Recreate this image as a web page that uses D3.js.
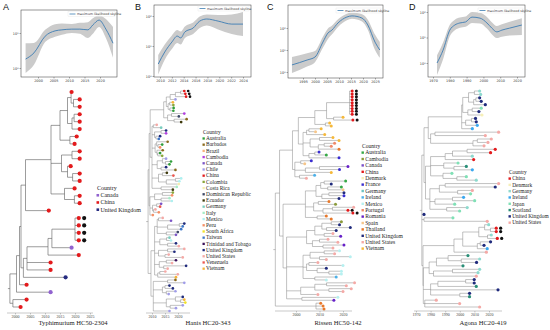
<!DOCTYPE html>
<html>
<head>
<meta charset="utf-8">
<script src="https://cdn.jsdelivr.net/npm/d3@7"></script>
<style>
  body { margin: 0; background: #fff; }
  svg { display: block; }
</style>
</head>
<body>
<svg id="fig" width="550" height="330"></svg>
<script>
// ---- skyline data (effective population size, years) ----
const skyA_year = [1996, 1998.7, 2002.3, 2005.5, 2007.7, 2010.9, 2013.5, 2016.1, 2017.7, 2019.7, 2021.9, 2024.2]
const skyA_med  = [1.8, 2.7, 8.1, 11.5, 12.3, 12.9, 12.9, 12.3, 17.0, 23.4, 12.9, 5.1]
const skyA_low  = [0.72, 1.23, 5.5, 7.8, 8.9, 10.0, 9.5, 7.2, 9.5, 14.8, 7.2, 1.95]
const skyA_high = [5.1, 5.2, 12.3, 17.8, 18.6, 18.2, 19.5, 20.4, 26.3, 32.4, 25.1, 14.8]

const skyB_year = [2009.7, 2010.8, 2012, 2012.9, 2013.5, 2014.2, 2015.6, 2016.7, 2017.9, 2019.8, 2022.1, 2024]
const skyB_med  = [2.5, 6.3, 13.5, 21.4, 18.6, 29.5, 39.8, 67.6, 79.4, 67.6, 53.7, 53.7]
const skyB_low  = [1.12, 3.5, 7.9, 12.6, 11.2, 18.6, 25.1, 39.8, 47.9, 35.5, 25.1, 21.4]
const skyB_high = [5.0, 11.2, 22.4, 33.9, 30.2, 44.7, 60.3, 95.5, 112, 107, 112, 135]

const skyC_year = [1990.4, 1996.7, 2000, 2003.3, 2005.4, 2007, 2009.6, 2013.3, 2015.4, 2019.6, 2022, 2025, 2027]
const skyC_med  = [2.1, 3.5, 4.8, 22.9, 58.9, 79.4, 170, 316, 355, 282, 138, 22.9, 10]
const skyC_low  = [0.89, 1.78, 2.8, 12.6, 31.6, 50.1, 112, 224, 263, 200, 83, 10, 4.4]
const skyC_high = [4.8, 7.1, 8.9, 39.8, 95.5, 126, 251, 447, 501, 417, 240, 50.1, 22.9]

const skyD_year = [1972.4, 1976, 1980, 1983, 1986, 1989.4, 1993.2, 1998, 2002.1, 2005, 2008, 2011, 2015.7, 2022.9]
const skyD_med  = [1.0, 3.2, 19.5, 30.9, 37.2, 40.7, 63.1, 57.5, 37.2, 23.4, 16.6, 19.5, 23.4, 30.9]
const skyD_low  = [0.34, 1.41, 11.2, 19.1, 24.0, 26.3, 37.2, 35.5, 22.4, 13.5, 9.5, 10.7, 12.0, 12.6]
const skyD_high = [2.0, 6.3, 31.6, 50.1, 60.3, 66.1, 100, 93.3, 63.1, 39.8, 28.2, 33.1, 41.7, 57.5]

// ---- trees: newick, tip = country code (":year" = node date), "*" = study isolate ----
const treeA_top16 = "((((CN:2018.3,(CN:2021,CN:2021):2019.5):2018.7,((CN:2021,CN:2021):2019.7,CN:2021):2019):2017.5,(CN:2020,CN:2019.3):2018.3):2015,((CN:2021,CN:2021):2019,(CN:2018,(CN:2021,CN:2021):2019.2):2017.5):2015.5,(CN:2019.3,(CN:2021,CN:2021):2019.8):2016.5):2012"
const treeA_low = "((((CN*:2020.7,CN*:2020.7,CN*:2020.7,CN*:2020.7):2020,CA:2018.3):2012.3,CN:2020.7):2011,CN:2011.3,CN:2011.3):2004"
const treeA = "((((" + "(" + treeA_top16 + ",CN:2010.7):2003.5" + ",(" + treeA_low + ",UK:2016.3):2002.8):2002,CN:2003.3):2001.5,CA:2011.3):2000.5,(CN:2003.3,CN:2001.3):1999.3):1998.3"

const treeB1 = "(((((CN*:2022,CN*:2022.4):2021,CN*:2022.7):2019,CL:2018.6):2017,((VN:2017.6,CO:2017.8):2016.8,(AU:2017.9,AU:2017.8):2016.9):2016.2):2015.5,((KH:2022,DR:2019.9):2017.5,(BB:2022.9,EC:2020.8):2018.5):2016):2014.5"
const treeB2 = "((US:2011.4,DE:2013.1):2010.5,((UK:2015,KH:2015):2013.5,(UK:2012.7,TW:2012.2):2011.5):2011,((BB:2015.6,(AU:2013.5,PE:2012.7):2012.3):2011.8,(BB:2013.7,(AU:2012.7,CO:2013.5):2012.2):2011.9):2011.2,((CL:2015,(AU:2016.9,AU:2016.3):2015.2):2014,(UK:2015,BB:2018.6):2013.5):2012,((EC:2015.3,VE:2017.8):2014,((MX:2020.8,MX:2020.1):2019,CR:2019.9):2015.5):2012.5,(IT:2019.1,EC:2017.6):2013.5):2010"
const treeB3 = "(((CO:2017.6,PE:2017.3):2014,(IT:2016.3,MX:2017.2):2013.5):2011,((CA:2013.1,VE:2012.7):2011.8,(US:2010.9,PE:2012.2):2010.6):2010.2,PE:2009.9):2009.2"
const treeB4 = "(((US:2013.7,CA:2016.9):2012.5,((UK:2022,TW:2021.4):2020.5,TW:2020.8):2016,(DR:2019.5,CA:2018.8):2015.5):2012,((DE:2016.3,MX:2016.9):2015.6,(UK:2018.8,US:2019.9):2016):2013,((US:2022,UK:2018.2):2016,(US:2016,US:2021.4):2015):2012.5,((TT:2018.8,US:2017.3):2015.5,(UK:2022.7,US:2015.6):2014.5):2012.8,((US:2014.7,US:2019.5):2013,VN:2018.8):2012.2):2011"
const treeB5 = "((BB:2018.6,CL:2022):2016,((UK:2016.3,UK:2017.6):2015,(CL:2018.6,CL:2016):2015.5):2014,((UK:2021.4,(VN:2022,SA:2022.4):2021):2019,(CL:2021.4,CL:2018.8):2017):2015.5,CL:2016.3):2010.5"
const treeB = "(((" + treeB1 + "," + treeB2 + "):2009.3," + treeB3 + "):2008.9,(" + treeB4 + "," + treeB5 + "):2009.6):2008.5"

const treeC1a = "(((CN*:2023.4,CN*:2023.4,CN*:2023.4,CN*:2023.4,CN*:2023.4,CN*:2023.4,CN*:2023.4,CN*:2023.4,CN*:2023.4):2022.8,(VN:2019.5,CN*:2023.7):2016):2013,(VN:2013.8,VN:2014.5):2012.5):2008"
const treeC1b = "(((VN:2010.2,ES:2007.8):2005.5,VN:2011.7):2004.5,((VN:2015.2,VN:2017.8):2010,((PT:2015.9,PT:2014.5):2012,TH:2017.8):2009.5):2006,((FR:2009.3,AU:2012.4):2008,FR:2017.8):2005.5):2003"
const treeC1c = "((FR:2006,ES:2003.2):2002,((RO:2021.6,FR:2018):2010,VN:2014.5):2004,(IE:2007.4,US:2003.9):2001.5):1999.5"
const treeC2 = "((((AU:2020.6,UK:2014.5):2012,(AU:2018.8,ES:2019.5):2013.5):2010.5,((UK:2019.9,FR:2019.9):2014,UK:2017.8):2011):2008.5,((TH:2013.5,KH:2016.3):2009.5,((US:2024,CN*:2021.6):2015.5,CN*:2023.7):2011.5):2007.5,(TH:2012.4,TH:2014.5):2009):2004"
const treeC3a = "((((KH:2018.8,UK:2018):2015,(UK:2022.6,UK:2016.6):2013):2011,(US:2015.2,RO:2018.5):2012):2008,((US:2013.1,US:2017.3):2010,(RO:2019.9,US:2015.2):2011.5):2007):2004.5"
const treeC3b = "(((MX:2018,US:2015.9):2012,(MX:2022.6,US:2012.4):2010):2006,((US:2008.8,MX:2019.5):2005.5,(UK:2012.4,(MX:2018.8,MX:2018.8):2014):2009):2004.5,(IE:2016.6,MX:2012.4):2008):2003"
const treeC3c = "(((US:2024.4,US:2020.9):2013,(US:2023,US:2019.5):2014):2008,US:2008.8):2002"
const treeC3d = "(MX:2017.3,RO:2015.6):2002.5"
const treeC3e = "(TH:2010,TH:2011,TH:2011.4):2008.5"
const treeC = "((" + "((" + treeC1a + "," + treeC1b + "):2001," + treeC1c + "):1998.5" +
  ",(" + treeC2 + ",(" + treeC3a + "," + treeC3b + "," + treeC3c + "," + treeC3d + "):1996):1994.5):1993," + treeC3e + "):1991.2"

const treeD1a = "((((DE:2012.7,DE:2013.4):2010,((UK:2012.7,UK:2013.8):2011,UK:2016.6):2009.5):2006,((JP:2013.8,UK:2012.2):2008.5,DK:2014.3):2005.5):2002,((UK:2009.9,UK:2010.4):2008,IE:2011.1):2004,IE:2007.7):2001.3"
const treeD1b = "((US:2025.7,US:2016.6):1983,((US:2020.7,US:2018.4):2012,US:2015.7):2009):1980"
const treeD2a = "((((CN:2023.4,CN:2020.2):2005,DE:2007.7):1995,CN:2008.6):1990,(JP:1997.9,(SC:2003.6,IE:2007.7):1996):1989,(JP:1993.7,(JP:2003.6,DE:2010.4):1998):1988.5):1980"
const treeD2b = "(((US:2025.7,UK:2023.4):1990,(US:2007.7,JP:2006.5):1998.5):1986,((IE:2001.7,JP:2009.3):1995,JP:1995.6):1983,(DE:2004.2,JP:1999):1991):1979.5"
const treeD3 = "(JP:1994.4,US:2017.9):1975.5"
const treeD4 = "((((DE:2018.9,(CN*:2024.1,CN*:2024.1):2021):2017,(DE:2020.7,CN*:2024.8):2019):2013,((UK:2020.2,UK:2015.7):2014,IE:2017.9):2012):2002,US:2017.3):1996"
const treeD5a = "(((SC:2004.7,(DE:2012.7,UK:2010.6):2001):1992,SC:2001.3):1984,((DE:2012.7,DE:2011.6):1995,US:2010.4):1982):1979"
const treeD5b = "(((UK:2009,UK:2009):2004,SC:2010.4):1985,UK:2025.3,(UK:2005.8,SC:2005.8):2000):1980"
const treeD5c = "(US:1983,US:1999,US:2012.7):1976"
const treeD = "((" + "(" + treeD1a + "," + treeD1b + "):1978.4" + "," + "(" + treeD2a + "," + treeD2b + "):1976.5" +
  "):1975.5,UK:1974.6," + treeD3 + ",(" + treeD4 + ",(" + treeD5a + "," + treeD5b + "," + treeD5c + "):1975):1974.8):1974"

const codes = {
  AU: "Australia", BB: "Barbados", BR: "Brazil", KH: "Cambodia", CA: "Canada", CL: "Chile",
  CN: "China", CO: "Colombia", CR: "Costa Rica", DR: "Dominican Republic", EC: "Ecuador",
  DE: "Germany", IT: "Italy", MX: "Mexico", PE: "Peru", SA: "South Africa", TW: "Taiwan",
  TT: "Trinidad and Tobago", UK: "United Kingdom", US: "United States", VE: "Venezuela",
  VN: "Vietnam", DK: "Denmark", FR: "France", IE: "Ireland", PT: "Portugal", RO: "Romania",
  ES: "Spain", TH: "Thailand", JP: "Japan", SC: "Scotland"
}

// ---- legends ----
const legendA = ["Canada", "China", "United Kingdom"]
const colorsA = ["#9163cf", "#e31a1c", "#252b80"]

const legendB = ["Australia", "Barbados", "Brazil", "Cambodia", "Canada", "Chile", "China", "Colombia",
  "Costa Rica", "Dominican Republic", "Ecuador", "Germany", "Italy", "Mexico", "Peru", "South Africa",
  "Taiwan", "Trinidad and Tobago", "United Kingdom", "United States", "Venezuela", "Vietnam"]
const colorsB = ["#2f9e3a", "#8a6a1c", "#f6b27c", "#b23fe0", "#7b55c6", "#a09ce8", "#e31a1c", "#8aa63a",
  "#f6eeae", "#3c4767", "#3e3a0c", "#79cdbf", "#a6ecc6", "#aef0f0", "#f58f66", "#f1e22a",
  "#3f78c8", "#3a105a", "#1f2a7c", "#f4a9a6", "#ec5850", "#f5b43a"]

const legendC = ["Australia", "Cambodia", "Canada", "China", "Denmark", "France", "Germany", "Ireland",
  "Mexico", "Portugal", "Romania", "Spain", "Thailand", "United Kingdom", "United States", "Vietnam"]
const colorsC = ["#35a845", "#8a9a3a", "#7a4fc8", "#e31a1c", "#f6efb8", "#3a2ed0", "#6ec3c3", "#4db0e8",
  "#b6f0f0", "#f08868", "#6620c8", "#f6c68a", "#e8782a", "#1f2a7c", "#f4a9a6", "#f5b83a"]

const legendD = ["China", "Denmark", "Germany", "Ireland", "Japan", "Scotland", "United Kingdom", "United States"]
const colorsD = ["#e31a1c", "#f6efb8", "#8edace", "#3aa8f0", "#80e0b6", "#2a8f78", "#1f2a7c", "#f4a9a6"]

const svg = d3.select("#fig")
const serif = "'Liberation Serif', 'Times New Roman', serif"
const sans = "'DejaVu Sans', 'Liberation Sans', sans-serif"
const sup = { "0": "\u2070", "1": "\u00b9", "2": "\u00b2", "3": "\u00b3" }

function parseNewick (s) {
  let i = 0
  function node () {
    const n = { children: [] }
    if (s[i] === "(") {
      i++
      n.children.push(node())
      while (s[i] === ",") { i++; n.children.push(node()) }
      i++
    }
    let lab = ""
    while (i < s.length && !",():".includes(s[i])) lab += s[i++]
    n.name = lab
    if (s[i] === ":") {
      i++
      let v = ""
      while (i < s.length && !",()".includes(s[i])) v += s[i++]
      n.year = +v
    }
    return n
  }
  return node()
}

function drawSkyline (cfg) {
  const g = svg.append("g")
  const [bx0, by0, bx1, by1] = cfg.box
  const x = d3.scaleLinear().domain(cfg.xDomain).range(cfg.xRange)
  const y = d3.scaleLog().domain(cfg.yDomain).range(cfg.yRange)
  const rows = cfg.years.map((yr, i) => ({ yr, med: cfg.med[i], low: cfg.low[i], high: cfg.high[i] }))

  g.append("clipPath").attr("id", cfg.id)
    .append("rect").attr("x", bx0).attr("y", by0).attr("width", bx1 - bx0).attr("height", by1 - by0)

  const inner = g.append("g").attr("clip-path", `url(#${cfg.id})`)
  inner.append("path").datum(rows)
    .attr("d", d3.area().x(d => x(d.yr)).y0(d => y(d.low)).y1(d => y(d.high)).curve(d3.curveMonotoneX))
    .attr("fill", "#cbcbcb")
  inner.append("path").datum(rows)
    .attr("d", d3.line().x(d => x(d.yr)).y(d => y(d.med)).curve(d3.curveMonotoneX))
    .attr("fill", "none").attr("stroke", "#3d7db3").attr("stroke-width", 0.9)

  g.append("rect").attr("x", bx0).attr("y", by0).attr("width", bx1 - bx0).attr("height", by1 - by0)
    .attr("fill", "none").attr("stroke", "#333").attr("stroke-width", 0.5)

  const xa = g.append("g").attr("transform", `translate(0,${by1})`)
    .call(d3.axisBottom(x).tickValues(cfg.xTicks).tickFormat(d3.format("d")).tickSize(1.5).tickPadding(1))
  const ya = g.append("g").attr("transform", `translate(${bx0},0)`)
    .call(d3.axisLeft(y).tickValues(cfg.yTicks).tickSize(1.5).tickPadding(1)
      .tickFormat(d => "10" + sup[String(Math.round(Math.log10(d)))]))
  for (const a of [xa, ya]) {
    a.select(".domain").remove()
    a.selectAll("line").attr("stroke", "#333").attr("stroke-width", 0.4)
    a.selectAll("text").attr("font-family", sans).attr("font-size", 3.4).attr("fill", "#333")
  }

  // legend
  const [lx, ly] = cfg.legend
  g.append("rect").attr("x", lx).attr("y", ly).attr("width", bx1 - lx - 2).attr("height", 5)
    .attr("fill", "#fff").attr("fill-opacity", 0.8).attr("stroke", "#ddd").attr("stroke-width", 0.3)
  g.append("line").attr("x1", lx + 1.5).attr("x2", lx + 7.5).attr("y1", ly + 2.5).attr("y2", ly + 2.5)
    .attr("stroke", "#3d7db3").attr("stroke-width", 0.8)
  g.append("text").attr("x", lx + 9).attr("y", ly + 3.6)
    .attr("font-family", sans).attr("font-size", 3.2).attr("fill", "#333")
    .text("maximum likelihood skyline")
}

function drawTree (cfg) {
  const g = svg.append("g")
  const root = d3.hierarchy(parseNewick(cfg.newick), d => d.children.length ? d.children : null)
  const leaves = root.leaves()
  const ly = d3.scalePoint().domain(d3.range(leaves.length)).range([cfg.top, cfg.bottom])
  leaves.forEach((d, i) => { d.py = ly(i) })
  root.eachAfter(d => {
    if (d.children) d.py = (d.children[0].py + d.children[d.children.length - 1].py) / 2
  })
  const x = d3.scaleLinear().domain(cfg.xDomain).range(cfg.xRange)
  const color = d3.scaleOrdinal().domain(cfg.legend).range(cfg.colors)

  const lines = g.append("g").attr("stroke", cfg.branch).attr("stroke-width", cfg.bw).attr("fill", "none")
  root.each(d => {
    const xn = x(d.data.year)
    if (d.parent) {
      lines.append("line").attr("x1", x(d.parent.data.year)).attr("x2", xn).attr("y1", d.py).attr("y2", d.py)
    }
    if (d.children) {
      lines.append("line").attr("x1", xn).attr("x2", xn)
        .attr("y1", d.children[0].py).attr("y2", d.children[d.children.length - 1].py)
    }
  })
  lines.append("line").attr("x1", x(root.data.year) - 2).attr("x2", x(root.data.year))
    .attr("y1", root.py).attr("y2", root.py)

  const r = cfg.r
  leaves.forEach(d => {
    const code = d.data.name.replace("*", "")
    const cx = x(d.data.year) + r * 0.8
    g.append("circle").attr("cx", cx).attr("cy", d.py).attr("r", r).attr("fill", color(codes[code]))
    if (d.data.name.endsWith("*")) {
      g.append("circle").attr("cx", cx + r * 2 + 1.2).attr("cy", d.py).attr("r", r).attr("fill", "#111")
    }
  })

  // time axis
  const ax = g.append("g").attr("transform", `translate(0,${cfg.axisY})`)
    .call(d3.axisBottom(x).tickValues(cfg.ticks).tickFormat(d3.format("d")).tickSize(1.5).tickPadding(1).tickSizeOuter(0))
  ax.select(".domain").remove()
  ax.selectAll("line").attr("stroke", "#777").attr("stroke-width", 0.4)
  ax.selectAll("text").attr("font-family", serif).attr("font-size", 4).attr("fill", "#444")
  g.append("line").attr("x1", cfg.axisExtent[0]).attr("x2", cfg.axisExtent[1])
    .attr("y1", cfg.axisY).attr("y2", cfg.axisY).attr("stroke", "#777").attr("stroke-width", 0.4)

  // legend
  const L = cfg.legendPos
  g.append("text").attr("x", L.x).attr("y", L.y).attr("font-family", serif)
    .attr("font-size", L.font).attr("fill", "#222").text("Country")
  cfg.legend.forEach((name, i) => {
    const yy = L.y + (i + 1) * L.step
    g.append("rect").attr("x", L.x - 0.5).attr("y", yy - L.font * 0.32 - L.box / 2)
      .attr("width", L.box).attr("height", L.box).attr("fill", cfg.colors[i])
    g.append("text").attr("x", L.x + L.box + 0.8).attr("y", yy).attr("font-family", serif)
      .attr("font-size", L.font).attr("fill", "#222").text(name)
  })

  svg.append("text").attr("x", cfg.caption[0]).attr("y", cfg.caption[1]).attr("text-anchor", "middle")
    .attr("font-family", serif).attr("font-size", 6.6).attr("fill", "#222").text(cfg.caption[2])
}

// ---- panels ----
drawSkyline({ id: "cA", box: [21, 10, 117, 77], xDomain: [2000, 2020], xRange: [38, 100],
  yDomain: [1, 10], yRange: [68, 33], xTicks: [2000, 2005, 2010, 2015, 2020], yTicks: [1, 10],
  years: skyA_year, med: skyA_med, low: skyA_low, high: skyA_high, legend: [68, 11.5] })
drawSkyline({ id: "cB", box: [154, 5, 251, 77], xDomain: [2010, 2024], xRange: [160, 243],
  yDomain: [1, 100], yRange: [76, 16], xTicks: d3.range(2010, 2025, 2), yTicks: [1, 10, 100],
  years: skyB_year, med: skyB_med, low: skyB_low, high: skyB_high, legend: [198, 6] })
drawSkyline({ id: "cC", box: [288, 5, 383, 78], xDomain: [1995, 2025], xRange: [303, 375],
  yDomain: [1, 100], yRange: [72, 28], xTicks: d3.range(1995, 2026, 5), yTicks: [1, 10, 100],
  years: skyC_year, med: skyC_med, low: skyC_low, high: skyC_high, legend: [336, 8] })
drawSkyline({ id: "cD", box: [428, 5, 525, 77], xDomain: [1970, 2020], xRange: [433, 517],
  yDomain: [1, 100], yRange: [63, 12], xTicks: d3.range(1970, 2021, 10), yTicks: [1, 10, 100],
  years: skyD_year, med: skyD_med, low: skyD_low, high: skyD_high, legend: [478, 8] })

drawTree({ newick: treeA, xDomain: [2000, 2025], xRange: [15, 90], top: 92, bottom: 307,
  axisY: 313, axisExtent: [7, 93], ticks: d3.range(2000, 2026, 5), r: 2.1, branch: "#5a5a5a", bw: 0.6,
  legend: legendA, colors: colorsA, legendPos: { x: 97, y: 190, step: 7.2, font: 6, box: 2.6 },
  caption: [73, 325, "Typhimurium HC50-2304"] })
drawTree({ newick: treeB, xDomain: [2010, 2020], xRange: [152, 178], top: 91, bottom: 311,
  axisY: 313, axisExtent: [146, 190], ticks: [2010, 2015, 2020], r: 1.35, branch: "#858585", bw: 0.5,
  legend: legendB, colors: colorsB, legendPos: { x: 203, y: 134, step: 6.2, font: 5.4, box: 2.3 },
  caption: [208, 325, "Hanis HC20-343"] })
drawTree({ newick: treeC, xDomain: [2000, 2020], xRange: [296, 343], top: 91, bottom: 309,
  axisY: 311, axisExtent: [275, 352], ticks: [2000, 2010, 2020], r: 1.5, branch: "#858585", bw: 0.5,
  legend: legendC, colors: colorsC, legendPos: { x: 362, y: 148, step: 6.4, font: 5.6, box: 2.4 },
  caption: [338, 325, "Rissen HC50-142"] })
drawTree({ newick: treeD, xDomain: [1970, 2020], xRange: [416, 489], top: 91, bottom: 307,
  axisY: 311, axisExtent: [414, 502], ticks: d3.range(1970, 2021, 10), r: 1.6, branch: "#858585", bw: 0.5,
  legend: legendD, colors: colorsD, legendPos: { x: 509, y: 174, step: 6.3, font: 5.4, box: 2.4 },
  caption: [483, 325, "Agona HC20-419"] })

// panel letters
const letters = [["A", 3], ["B", 135], ["C", 267], ["D", 409]]
svg.selectAll("text.letter").data(letters).enter().append("text")
  .attr("class", "letter").attr("x", d => d[1]).attr("y", 10)
  .attr("font-family", "'Liberation Sans', Arial, sans-serif").attr("font-size", 9).attr("fill", "#111")
  .text(d => d[0])
</script>
</body>
</html>
